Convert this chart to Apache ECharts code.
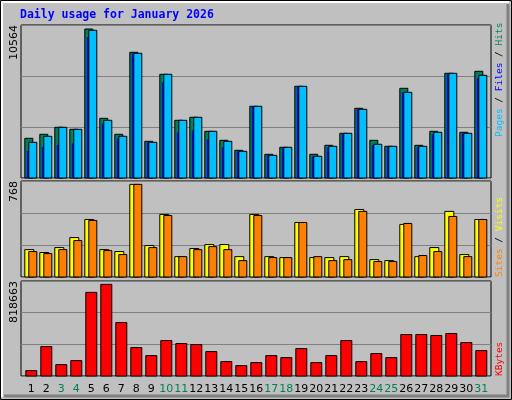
<!DOCTYPE html>
<html>
<head>
<meta charset="utf-8">
<script src="https://cdn.jsdelivr.net/npm/echarts@6/dist/echarts.min.js"></script>
<style>html,body{margin:0;padding:0;background:#fff}#chart{width:512px;height:400px}</style>
</head>
<body>
<div id="chart"></div>
<script>
var days = [];
for (var i = 1; i <= 31; i++) days.push(i);
var weekend = [3, 4, 10, 11, 17, 18, 24, 25, 31];

var hits = [2815,3098,3595,3453,10564,4233,3098,8912,2602,7352,4091,4304,3311,2673,1964,5084,1680,2177,6502,1680,2318,3169,4942,2673,2248,6360,2318,3311,7423,3240,7565];
var files = [2531,2957,3595,3453,10472,4091,2957,8841,2531,7352,4091,4304,3311,2602,1893,5084,1609,2177,6502,1539,2248,3169,4871,2389,2248,6076,2248,3240,7423,3169,7281];
var pages = [1914,2198,2340,2460,9997,3878,2815,8841,2531,6785,3240,3382,2744,2198,1893,5084,1609,2106,6502,1539,2177,3098,4871,2318,2177,6076,2177,3098,7352,3169,7069];
var visits = [227,203,244,327,477,227,211,768,261,519,169,236,269,269,169,519,169,161,452,161,161,169,560,144,136,436,169,244,544,186,477];
var sites = [211,194,227,302,469,219,186,768,244,510,169,227,252,227,136,510,161,161,452,169,136,144,544,128,128,444,178,211,502,169,477];
var kbytes = [47800,262900,101600,137400,747000,818663,478000,254000,182300,316700,289800,280900,218100,128500,92600,119500,182300,164300,245000,119500,182300,316700,128500,200200,164300,370500,370500,361500,379500,298800,227100];

var yMax = ['10564', '768', '818663'];
var axisTop = [10848, 796, 848540];

var myChart = echarts.init(document.getElementById('chart'));

function pairs(arr) {
    return arr.map(function (v, i) { return [days[i], v]; });
}

// bar drawn through the axes, offset in px from the day position
function barSeries(arr, gi, a, b, fill, stroke) {
    return {
        type: 'custom', xAxisIndex: gi, yAxisIndex: gi, silent: true,
        data: pairs(arr),
        renderItem: function (params, api) {
            var p = api.coord([api.value(0), api.value(1)]);
            var base = api.coord([api.value(0), 0]);
            return {
                type: 'rect',
                shape: { x: p[0] + a, y: p[1], width: b - a, height: base[1] - p[1] },
                style: { fill: fill, stroke: stroke ? '#000' : null, lineWidth: 1 }
            };
        }
    };
}

var grids = [
    { left: 21, width: 470, top: 25, height: 153 },
    { left: 21, width: 470, top: 181, height: 96 },
    { left: 21, width: 470, top: 281, height: 95 }
];
grids.forEach(function (g) {
    g.show = true; g.backgroundColor = '#c0c0c0'; g.borderColor = '#000'; g.borderWidth = 1;
});

var xAxes = grids.map(function (g, i) {
    return { gridIndex: i, type: 'value', min: 0.313, max: 31.646, show: false };
});
var yAxes = grids.map(function (g, i) {
    return {
        gridIndex: i, type: 'value', min: 0, max: axisTop[i], interval: axisTop[i] / 3,
        axisLabel: { show: false }, axisLine: { show: false }, axisTick: { show: false },
        splitLine: { show: true, lineStyle: { color: '#808080', width: 1 } }
    };
});

var series = [
    barSeries(hits, 0, -6.5, 1.5, '#00805a', true),
    barSeries(pages, 0, -4.5, -2.5, '#0000ff', false),
    barSeries(files, 0, -2.5, 5.5, '#00bfff', true),
    barSeries(visits, 1, -6.5, 2.5, '#ffff00', true),
    barSeries(sites, 1, -2.5, 5.5, '#ff8000', true),
    barSeries(kbytes, 2, -5.5, 5.5, '#ff0000', true),
    {
        type: 'custom', xAxisIndex: 2, yAxisIndex: 2, silent: true,
        data: days.map(function (d) { return [d, 0]; }),
        renderItem: function (params, api) {
            var d = api.value(0);
            var p = api.coord([d, 0]);
            return {
                type: 'text',
                style: {
                    x: p[0], y: 389, text: String(d), textAlign: 'center', textVerticalAlign: 'middle',
                    fill: weekend.indexOf(d) >= 0 ? '#00805a' : '#000',
                    font: '11px "DejaVu Sans"'
                }
            };
        }
    }
];

var rot = Math.PI / 2;
var graphic = [
    { type: 'rect', shape: { x: 0.5, y: 0.5, width: 511, height: 399 }, style: { fill: '#c0c0c0', stroke: '#000' }, z: -10 },
    { type: 'polyline', shape: { points: [[2, 397], [2, 2], [509, 2]] }, style: { stroke: '#fff', lineWidth: 2, fill: null }, z: -9 },
    { type: 'polyline', shape: { points: [[508, 4], [508, 396], [4, 396]] }, style: { stroke: '#808080', lineWidth: 3, fill: null }, z: -9 },
    { type: 'text', x: 20, y: 15, style: { text: 'Daily usage for January 2026', fill: '#0000ff', font: 'bold 11.5px "DejaVu Sans Mono"', textVerticalAlign: 'middle' } },
    { type: 'text', x: 14, y: 25, rotation: rot, style: { text: yMax[0], fill: '#000', font: '11px "DejaVu Sans"', textAlign: 'right', textVerticalAlign: 'middle' } },
    { type: 'text', x: 14, y: 181, rotation: rot, style: { text: yMax[1], fill: '#000', font: '11px "DejaVu Sans"', textAlign: 'right', textVerticalAlign: 'middle' } },
    { type: 'text', x: 14, y: 281, rotation: rot, style: { text: yMax[2], fill: '#000', font: '11px "DejaVu Sans"', textAlign: 'right', textVerticalAlign: 'middle' } },
    { type: 'text', x: 500, y: 137, rotation: rot, style: {
        text: '{a|Pages}{s| / }{b|Files}{s| / }{c|Hits}', textAlign: 'left', textVerticalAlign: 'middle',
        font: '9.5px "DejaVu Sans Mono"',
        rich: { a: { fill: '#00bfff' }, b: { fill: '#0000ff' }, c: { fill: '#00805a' }, s: { fill: '#000' } } } },
    { type: 'text', x: 500, y: 277, rotation: rot, style: {
        text: '{a|Sites}{s| / }{b|Visits}', textAlign: 'left', textVerticalAlign: 'middle',
        font: '9.5px "DejaVu Sans Mono"',
        rich: { a: { fill: '#ff8000' }, b: { fill: '#ffff00' }, s: { fill: '#000' } } } },
    { type: 'text', x: 500, y: 376, rotation: rot, style: { text: 'KBytes', fill: '#ff0000', font: '9.5px "DejaVu Sans Mono"', textAlign: 'left', textVerticalAlign: 'middle' } }
];

myChart.setOption({
    animation: false,
    grid: grids,
    xAxis: xAxes,
    yAxis: yAxes,
    series: series,
    graphic: graphic
});
</script>
</body>
</html>
